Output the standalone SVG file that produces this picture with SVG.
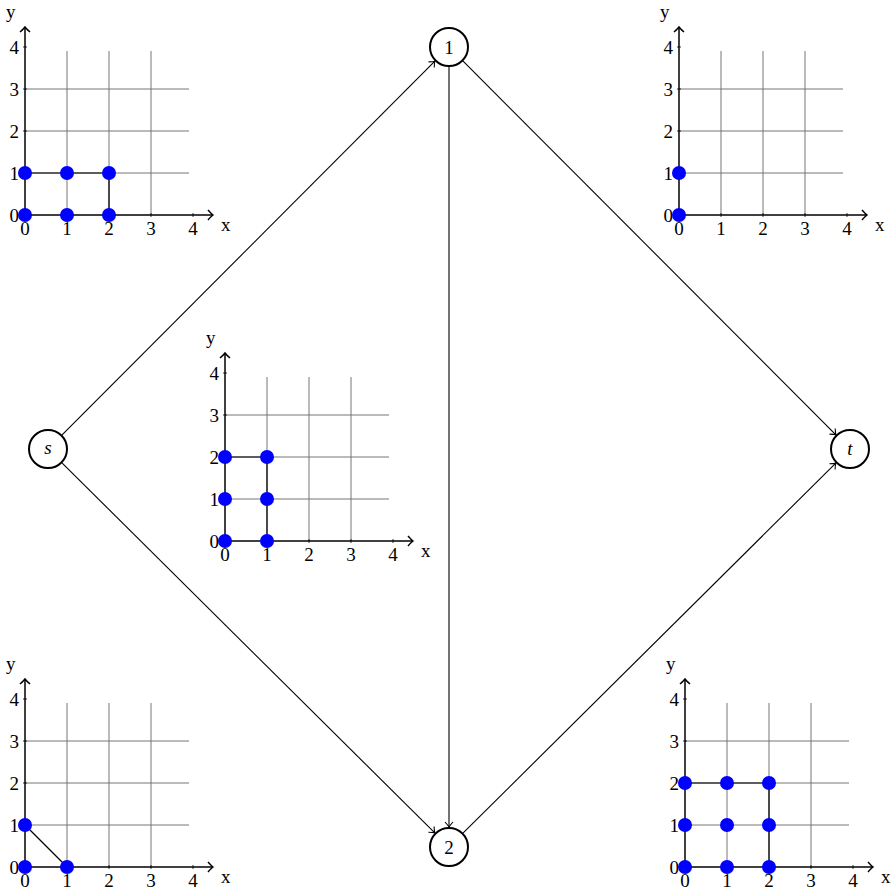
<svg xmlns="http://www.w3.org/2000/svg" xmlns:xlink="http://www.w3.org/1999/xlink" width="895" height="893" viewBox="0 0 895 893">
<style>
text{font-family:"Liberation Serif","DejaVu Serif",serif;font-size:19px;fill:#000}
.grid{stroke:#777;stroke-width:1;fill:none}
.axis{stroke:#000;stroke-width:1.5;fill:none}
.tick{stroke:#000;stroke-width:0.8}
.dot{fill:#0000ff}
.seg{stroke:#000;stroke-width:1.2;fill:none}
.node circle{fill:#fff;stroke:#000;stroke-width:2}
.node text{font-size:19px;text-anchor:middle}
.edge{stroke:#000;stroke-width:1.1;fill:none;marker-end:url(#to)}
.xl{text-anchor:middle}
.yl{text-anchor:end}
</style>
<defs>
<marker id="to" markerUnits="userSpaceOnUse" markerWidth="12" markerHeight="12" refX="0" refY="0" viewBox="-7 -6 8 12" orient="auto">
<path d="M-5,-4 Q-1.5,-0.8 0,0 Q-1.5,0.8 -5,4" fill="none" stroke="#000" stroke-width="1.1"/>
</marker>
<marker id="ax" markerUnits="userSpaceOnUse" markerWidth="12" markerHeight="14" refX="0" refY="0" viewBox="-7 -7 8 14" orient="auto">
<path d="M-5,-5 Q-1.5,-1 0,0 Q-1.5,1 -5,5" fill="none" stroke="#000" stroke-width="1.5"/>
</marker>
<g id="frame">
<path class="grid" d="M42,0V-164M84,0V-164M126,0V-164M0,-42H164M0,-84H164M0,-126H164"/>
<path class="tick" d="M42,-2V2M84,-2V2M126,-2V2M168,-2V2M-2,-42H2M-2,-84H2M-2,-126H2M-2,-168H2"/>
<line class="axis" x1="0" y1="0" x2="188" y2="0" marker-end="url(#ax)"/>
<line class="axis" x1="0" y1="0" x2="0" y2="-188" marker-end="url(#ax)"/>
<text class="xl" x="0" y="20">0</text>
<text class="xl" x="42" y="20">1</text>
<text class="xl" x="84" y="20">2</text>
<text class="xl" x="126" y="20">3</text>
<text class="xl" x="168" y="20">4</text>
<text class="yl" x="-6" y="6.5">0</text>
<text class="yl" x="-6" y="-35.5">1</text>
<text class="yl" x="-6" y="-77.5">2</text>
<text class="yl" x="-6" y="-119.5">3</text>
<text class="yl" x="-6" y="-161.5">4</text>
<text x="196" y="16">x</text>
<text x="-19" y="-197">y</text>
</g>
</defs>

<g id="connectors">
<line class="edge" x1="62.1" y1="434.8" x2="434.9" y2="61.2"/>
<line class="edge" x1="62.2" y1="463.1" x2="434.8" y2="832.9"/>
<line class="edge" x1="449" y1="67" x2="449" y2="827"/>
<line class="edge" x1="463.1" y1="61.2" x2="835.9" y2="434.8"/>
<line class="edge" x1="463.2" y1="832.9" x2="835.8" y2="463.1"/>
</g>

<g id="node-1" class="node"><circle cx="449" cy="47" r="19"/><text x="449" y="54">1</text></g>
<g id="node-2" class="node"><circle cx="449" cy="847" r="19"/><text x="449" y="854">2</text></g>
<g id="node-s" class="node"><circle cx="48" cy="449" r="19"/><text x="48" y="454" font-style="italic">s</text></g>
<g id="node-t" class="node"><circle cx="850" cy="449" r="19"/><text x="850" y="455" font-style="italic">t</text></g>

<g id="plot-top-left" transform="translate(25,215)">
<use xlink:href="#frame" href="#frame"/>
<path class="seg" d="M0,-42H84V0"/>
<circle class="dot" cx="0" cy="0" r="7"/><circle class="dot" cx="42" cy="0" r="7"/><circle class="dot" cx="84" cy="0" r="7"/>
<circle class="dot" cx="0" cy="-42" r="7"/><circle class="dot" cx="42" cy="-42" r="7"/><circle class="dot" cx="84" cy="-42" r="7"/>
</g>

<g id="plot-top-right" transform="translate(679,215)">
<use xlink:href="#frame" href="#frame"/>
<circle class="dot" cx="0" cy="0" r="7"/><circle class="dot" cx="0" cy="-42" r="7"/>
</g>

<g id="plot-middle" transform="translate(225,541)">
<use xlink:href="#frame" href="#frame"/>
<path class="seg" d="M0,-84H42V0"/>
<circle class="dot" cx="0" cy="0" r="7"/><circle class="dot" cx="42" cy="0" r="7"/>
<circle class="dot" cx="0" cy="-42" r="7"/><circle class="dot" cx="42" cy="-42" r="7"/>
<circle class="dot" cx="0" cy="-84" r="7"/><circle class="dot" cx="42" cy="-84" r="7"/>
</g>

<g id="plot-bottom-left" transform="translate(25,867)">
<use xlink:href="#frame" href="#frame"/>
<path class="seg" d="M0,-42L42,0"/>
<circle class="dot" cx="0" cy="0" r="7"/><circle class="dot" cx="42" cy="0" r="7"/><circle class="dot" cx="0" cy="-42" r="7"/>
</g>

<g id="plot-bottom-right" transform="translate(685,867)">
<use xlink:href="#frame" href="#frame"/>
<path class="seg" d="M0,-84H84V0"/>
<circle class="dot" cx="0" cy="0" r="7"/><circle class="dot" cx="42" cy="0" r="7"/><circle class="dot" cx="84" cy="0" r="7"/>
<circle class="dot" cx="0" cy="-42" r="7"/><circle class="dot" cx="42" cy="-42" r="7"/><circle class="dot" cx="84" cy="-42" r="7"/>
<circle class="dot" cx="0" cy="-84" r="7"/><circle class="dot" cx="42" cy="-84" r="7"/><circle class="dot" cx="84" cy="-84" r="7"/>
</g>
</svg>
